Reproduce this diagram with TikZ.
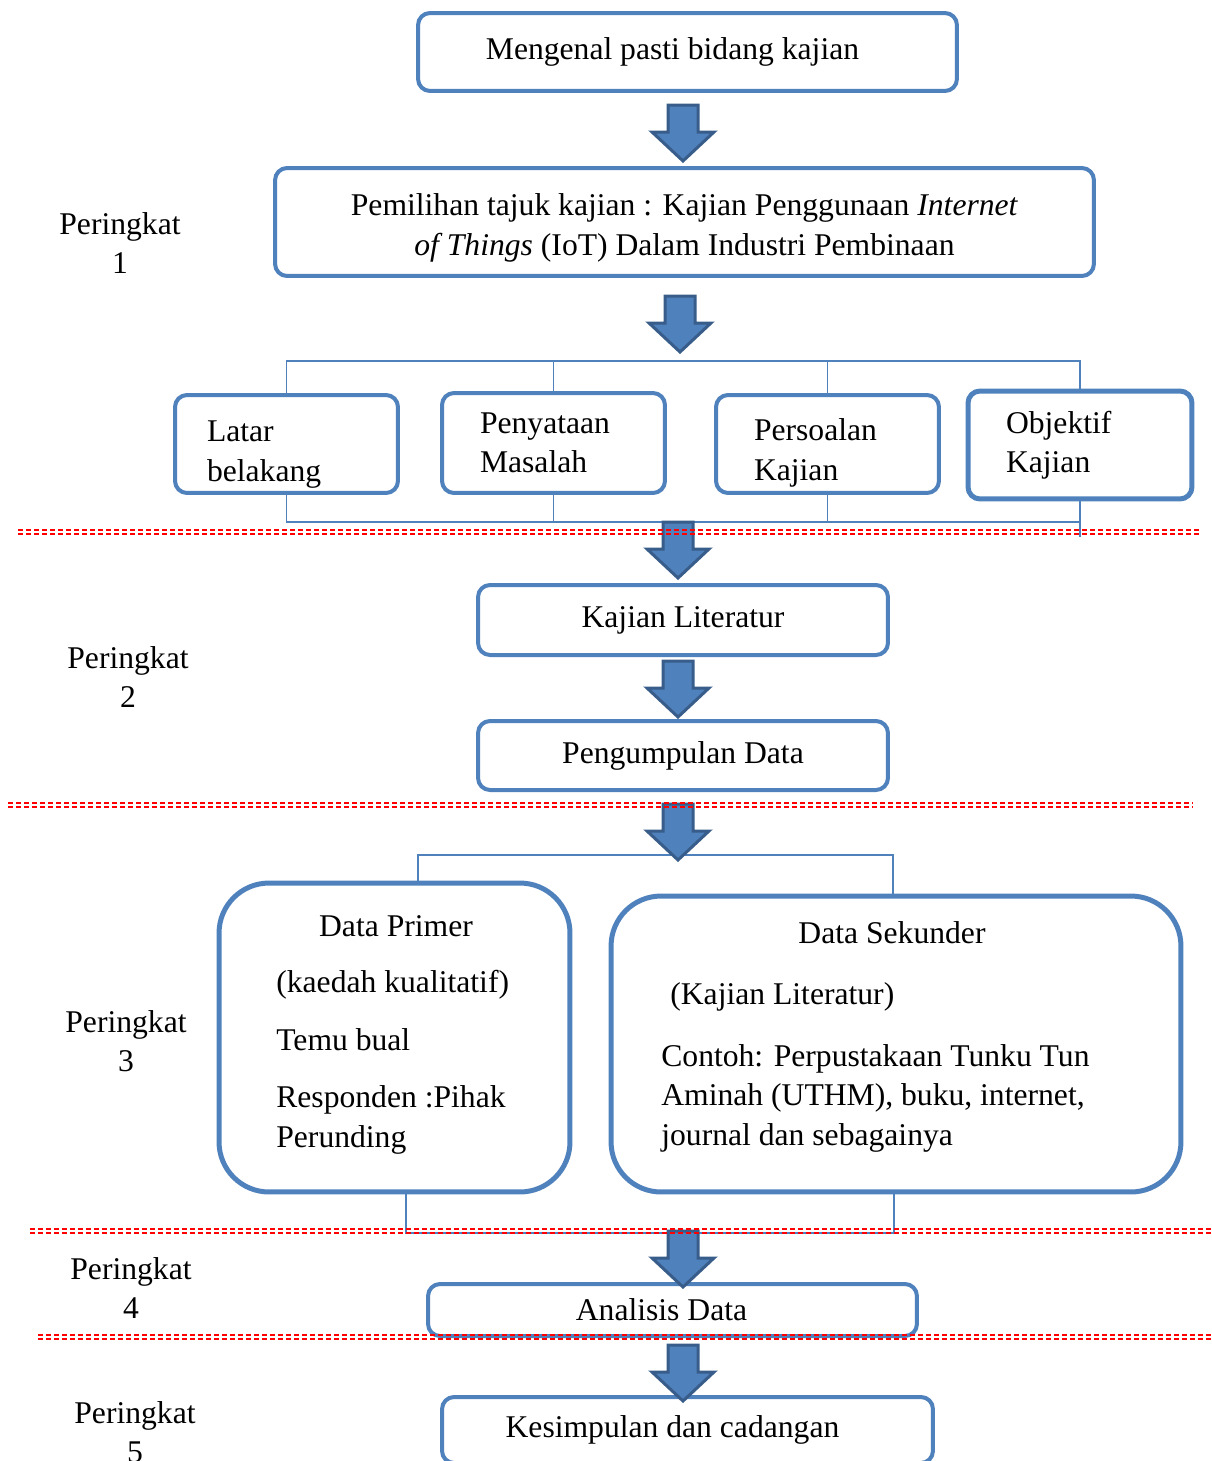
\documentclass[tikz,border=0pt]{standalone}
\usepackage{fontspec}
\setmainfont{Liberation Serif}
\usepackage{tikz}

\definecolor{boxblue}{RGB}{79,129,189}
\definecolor{arrowedge}{RGB}{56,93,138}
\tikzset{pics/blockarrow/.style={code={
  \filldraw[fill=boxblue,draw=arrowedge,line width=0.06cm]
    (-15,0) -- (15,0) -- (15,27) -- (31,27) -- (0,56) -- (-31,27) -- (-15,27) -- cycle;}}}

\begin{document}
\begin{tikzpicture}[x=0.02cm,y=-0.02cm]
  \tikzstyle{every node}=[font=\fontsize{18}{22.4}\selectfont]
  \tikzstyle{stepbox}=[draw=boxblue,line width=0.08cm,rounded corners=0.24cm,inner sep=0pt]
  \tikzstyle{subbox}=[stepbox,minimum height=1.96cm,text width=2.94cm,inner xsep=0.76cm,align=left]
  \tikzstyle{bigbox}=[draw=boxblue,line width=0.1cm,rounded corners=1cm]
  \tikzstyle{txt}=[inner sep=0pt,align=left]
  \tikzstyle{stage}=[inner sep=0pt,align=center]
  \tikzstyle{bracket}=[draw=boxblue,line width=0.035cm]
  \tikzstyle{stageline}=[red,line width=0.036cm,dash pattern=on 0.1cm off 0.06cm]
  \useasboundingbox (0,0) rectangle (1212,1461);

  % stage labels
  \node[stage] (peringkat1) at (120,243) {Peringkat\\1};
  \node[stage] (peringkat2) at (128,677) {Peringkat\\2};
  \node[stage] (peringkat3) at (126,1041) {Peringkat\\3};
  \node[stage] (peringkat4) at (131,1288) {Peringkat\\4};
  \node[stage] (peringkat5) at (135,1432) {Peringkat\\5};

  % peringkat 1
  \node[stepbox, minimum width=10.78cm, minimum height=1.56cm] (mengenal) at (687.5,52) {\hspace*{-0.6cm}Mengenal pasti bidang kajian};
  \node[stepbox, minimum width=16.38cm, minimum height=2.16cm, align=center] (pemilihan) at (684.5,222)
    {\rule{0pt}{0.67cm}Pemilihan tajuk kajian : Kajian Penggunaan \textit{Internet}\\\textit{of Things} (IoT) Dalam Industri Pembinaan};

  \node[subbox, inner xsep=0.64cm, text width=3.18cm] (latar) at (286.5,444) {\rule{0pt}{0.83cm}Latar\\belakang};
  \node[subbox, minimum height=2cm] (penyataan) at (553.5,443) {Penyataan\\Masalah};
  \node[subbox] (persoalan) at (827.5,444) {\rule{0pt}{0.79cm}Persoalan\\Kajian};
  \node[subbox, minimum height=2.16cm, text width=2.96cm, line width=0.1cm] (objektif) at (1080,445) {Objektif\\Kajian};

  \coordinate (topbar) at (0,361);
  \coordinate (lowbar) at (0,522);
  \coordinate (lowtail) at (0,537);
  \draw[bracket] (latar.north) -- (latar.north |- topbar) -- (objektif.north |- topbar) -- (objektif.north);
  \draw[bracket] (latar.south) -- (latar.south |- lowbar) -- (objektif.south |- lowbar);
  \draw[bracket] (objektif.south) -- (objektif.south |- lowtail);
  \foreach \n in {penyataan,persoalan} {
    \draw[bracket] (\n.north) -- (\n.north |- topbar);
    \draw[bracket] (\n.south) -- (\n.south |- lowbar);
  }

  % peringkat 2
  \node[stepbox, minimum width=8.2cm, minimum height=1.4cm] (literatur) at (683,620) {Kajian Literatur};
  \node[stepbox, minimum width=8.2cm, minimum height=1.38cm] (pengumpulan) at (683,755.5) {Pengumpulan Data};

  % peringkat 3
  \node[bigbox, minimum width=7.02cm, minimum height=6.18cm] (primer) at (394.5,1037.5) {};
  \node[bigbox, minimum width=11.4cm, minimum height=5.92cm] (sekunder) at (896,1044) {};
  \node[txt, anchor=base] (primerhead) at (396,936) {Data Primer};
  \node[txt, anchor=base west] (primerbody) at (276,1147)
    {(kaedah kualitatif)\\[0.36cm]Temu bual\\[0.36cm]Responden :Pihak\\Perunding};
  \node[txt, anchor=base] (sekunderhead) at (892,943) {Data Sekunder};
  \node[txt, anchor=base west] (sekunderbody) at (661,1145)
    {\hspace*{0.18cm}(Kajian Literatur)\\[0.44cm]Contoh: Perpustakaan Tunku Tun\\Aminah (UTHM), buku, internet,\\journal dan sebagainya};

  \coordinate (splitL) at (418,855);
  \coordinate (splitR) at (893,855);
  \coordinate (joinL) at (406,1233);
  \coordinate (joinR) at (894,1233);
  \draw[bracket] (primer.north -| splitL) -- (splitL) -- (splitR) -- (sekunder.north -| splitR);
  \draw[bracket] (primer.south -| joinL) -- (joinL) -- (joinR) -- (sekunder.south -| joinR);

  % peringkat 4 dan 5
  \node[stepbox, minimum width=9.78cm, minimum height=1.04cm] (analisis) at (672.5,1310) {\hspace*{-0.44cm}Analisis Data};
  \node[stepbox, minimum width=9.82cm, minimum height=1.32cm] (kesimpulan) at (687.5,1430) {\hspace*{-0.6cm}Kesimpulan dan cadangan};

  % arrows
  \pic at (683,105) {blockarrow};
  \pic at (680,296) {blockarrow};
  \pic at (678,522) {blockarrow};
  \pic at (678,661) {blockarrow};
  \pic at (678,804) {blockarrow};
  \pic at (683,1231) {blockarrow};
  \pic at (683,1345) {blockarrow};

  % stage separators
  \foreach \yy/\xa/\xb in {532/18/1200, 805/8/1192, 1231/30/1212, 1337/38/1212} {
    \draw[stageline] (\xa,\yy-2.3) -- (\xb,\yy-2.3);
    \draw[stageline] (\xa,\yy+2.3) -- (\xb,\yy+2.3);
  }

\end{tikzpicture}
\end{document}
